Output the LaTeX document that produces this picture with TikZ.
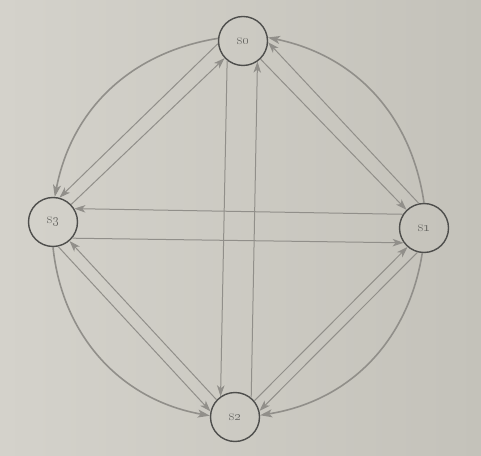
\documentclass[tikz,border=0pt]{standalone}
\usetikzlibrary{arrows.meta}
\definecolor{paperL}{RGB}{212,210,203}
\definecolor{paperR}{RGB}{196,194,186}
\definecolor{edgegray}{RGB}{145,143,138}
\definecolor{nodeline}{RGB}{78,78,76}
\definecolor{labelgray}{RGB}{100,100,96}
\begin{document}
\begin{tikzpicture}[x=1pt,y=1pt,
  state/.style={circle,draw=nodeline,line width=1.4pt,minimum size=49pt,inner sep=0pt,
    font=\fontsize{15}{17}\selectfont,text=labelgray},
  link/.style={draw=edgegray,line width=1pt,-{Stealth[length=11pt,width=7.5pt,inset=3pt]}},
  rim/.style={draw=edgegray,line width=1.6pt,-{Stealth[length=12pt,width=8pt,inset=3pt]}}]
\shade[left color=paperL,right color=paperR] (0,0) rectangle (481,455);
\useasboundingbox (0,0) rectangle (481,455);
\node[state] (s0) at (243,414) {s\oldstylenums{0}};
\node[state] (s1) at (424,227) {s\oldstylenums{1}};
\node[state] (s2) at (235,38) {s\oldstylenums{2}};
\node[state] (s3) at (53,233) {s\oldstylenums{3}};
% rim arcs
\draw[rim] (s0.174) to[bend right=35] (s3.86);
\draw[rim] (s3.270) to[bend right=37] (s2.177);
\draw[rim] (s1.266) to[bend left=36] (s2.4);
\draw[rim] (s1.90) to[bend right=35] (s0.8);
% vertical pair
\draw[link] (s0.231) -- (s2.125);
\draw[link] (s2.50) -- (s0.305);
% horizontal pair
\draw[link] (s1.147) -- (s3.32);
\draw[link] (s3.320) -- (s1.216);
% s0 - s3
\draw[link] (s0.186) -- (s3.75);
\draw[link] (s3.44) -- (s0.223);
% s0 - s1
\draw[link] (s1.102) -- (s0.357);
\draw[link] (s0.314) -- (s1.134);
% s1 - s2
\draw[link] (s1.255) -- (s2.14);
\draw[link] (s2.40) -- (s1.229);
% s3 - s2
\draw[link] (s3.282) -- (s2.167);
\draw[link] (s2.137) -- (s3.311);
\end{tikzpicture}
\end{document}
